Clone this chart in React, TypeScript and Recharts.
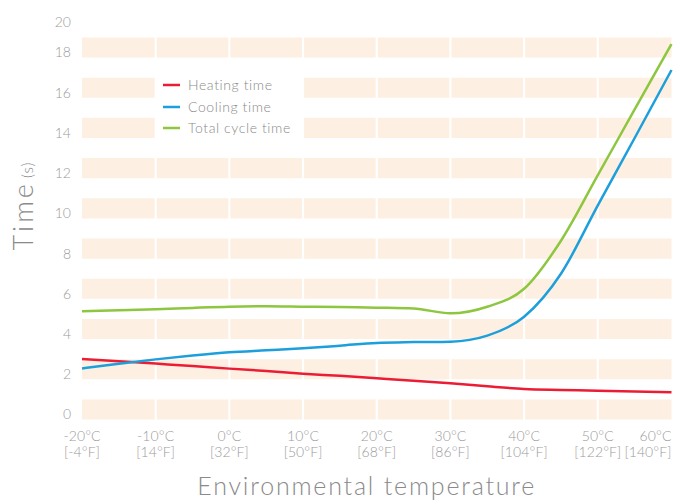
import React from 'react';
import { LineChart, Line, XAxis, YAxis, ReferenceArea, Legend } from 'recharts';

const temps = [-20, -15, -10, -5, 0, 5, 10, 15, 20, 25, 30, 35, 40, 45, 50, 55, 60];
const heating = [2.76, 2.65, 2.53, 2.41, 2.28, 2.16, 2.03, 1.92, 1.8, 1.68, 1.55, 1.4, 1.27, 1.22, 1.18, 1.14, 1.1];
const cooling = [2.29, 2.52, 2.74, 2.93, 3.09, 3.19, 3.29, 3.42, 3.56, 3.6, 3.62, 3.92, 4.86, 7.0, 10.4, 13.75, 17.13];
const total = [5.13, 5.18, 5.23, 5.3, 5.36, 5.38, 5.36, 5.34, 5.31, 5.27, 5.03, 5.36, 6.25, 8.64, 11.9, 15.17, 18.42];

const xTicks = [-20, -10, 0, 10, 20, 30, 40, 50, 60];
const celsiusLabels = ['-20°C', '-10°C', '0°C', '10°C', '20°C', '30°C', '40°C', '50°C', '60°C'];
const fahrenheitLabels = ['[-4°F]', '[14°F]', '[32°F]', '[50°F]', '[68°F]', '[86°F]', '[104°F]', '[122°F]', '[140°F]'];
const yTicks = [0, 2, 4, 6, 8, 10, 12, 14, 16, 18, 20];
const bandRows = [0, 2, 4, 6, 8, 10, 12, 14, 16, 18];
const bandCols = [-20, -10, 0, 10, 20, 30, 40, 50];

const seriesNames = ['Heating time', 'Cooling time', 'Total cycle time'];
const seriesColors = ['#ec1c34', '#1c9fdb', '#8dc63f'];

const data = temps.map((t, i) => ({ t, heating: heating[i], cooling: cooling[i], total: total[i] }));

const FONT = 'Lato, "Open Sans", sans-serif';
const TICK_COLOR = '#9b9b9b';
const TITLE_COLOR = '#8a8a8a';
const BAND = '#fdf0e2';

const XTick = (props: any) => {
  const { x, y, payload } = props;
  const i = xTicks.indexOf(payload.value);
  const last = i === xTicks.length - 1;
  return (
    <text x={x} y={y} textAnchor={last ? 'end' : 'middle'} fill={TICK_COLOR} fontSize={14} letterSpacing={0.1} fontFamily={FONT} fontWeight={300}>
      <tspan x={x} dy={21}>{celsiusLabels[i]}</tspan>
      <tspan x={x} dy={16.5}>{fahrenheitLabels[i]}</tspan>
    </text>
  );
};

const YTick = (props: any) => {
  const { x, y, payload } = props;
  const shift = payload.value === 20 ? 10 : 0;
  return (
    <text x={x} y={y + shift} dy="0.35em" textAnchor="end" fill={TICK_COLOR} fontSize={14} fontFamily={FONT} fontWeight={300}>
      {payload.value}
    </text>
  );
};

const LegendContent = (props: any) => {
  const payload = [...(props.payload || [])].sort(
    (a: any, b: any) => seriesNames.indexOf(a.value) - seriesNames.indexOf(b.value)
  );
  return (
    <div style={{ paddingTop: 14, fontFamily: FONT, fontWeight: 300, fontSize: 14, letterSpacing: 0.6, color: TITLE_COLOR }}>
      {payload.map((p: any) => (
        <div key={p.value} style={{ height: 21.7, display: 'flex', alignItems: 'center' }}>
          <svg width={32} height={6} style={{ display: 'block' }}>
            <line x1={7} x2={24} y1={3} y2={3} stroke={p.color} strokeWidth={2.5} />
          </svg>
          <span style={{ lineHeight: '21.7px', whiteSpace: 'nowrap' }}>{p.value}</span>
        </div>
      ))}
    </div>
  );
};

export default function App() {
  return (
    <div style={{ position: 'absolute', left: 0, top: 0, background: '#fff' }}>
      <LineChart width={686} height={502} data={data} margin={{ top: 12.3, right: 14.5, bottom: 22.5, left: 0 }}>
        {bandRows.map((r) =>
          bandCols.map((c, ci) => (
            <ReferenceArea
              key={`b${r}_${c}`}
              x1={ci === 0 ? c : c + 0.14}
              x2={ci === bandCols.length - 1 ? c + 10 : c + 10 - 0.14}
              y1={r - 0.25}
              y2={r + 0.75}
              fill={BAND}
              fillOpacity={1}
              stroke="none"
              ifOverflow="visible"
            />
          ))
        )}
        <XAxis
          dataKey="t"
          type="number"
          domain={[-20, 60]}
          ticks={xTicks}
          axisLine={false}
          tickLine={false}
          tickSize={0}
          tickMargin={0}
          height={60}
          interval={0}
          tick={<XTick />}
          label={{
            content: () => (
              <text x={366.7} y={495} textAnchor="middle" fill={TITLE_COLOR} fontSize={25} letterSpacing={1.8} fontFamily={FONT} fontWeight={300}>
                Environmental temperature
              </text>
            ),
          }}
        />
        <YAxis
          type="number"
          domain={[-0.25, 20]}
          ticks={yTicks}
          axisLine={false}
          tickLine={false}
          tickSize={0}
          tickMargin={11}
          width={82}
          interval={0}
          tick={<YTick />}
          label={{
            content: () => (
              <text x={32.5} y={206} transform="rotate(-90, 32.5, 206)" textAnchor="middle" fill={TITLE_COLOR} fontFamily={FONT} fontWeight={300}>
                <tspan fontSize={27} letterSpacing={3}>Time</tspan>
                <tspan fontSize={15} dx={3} letterSpacing={1}>(s)</tspan>
              </text>
            ),
          }}
        />
        <Legend
          layout="vertical"
          align="center"
          verticalAlign="middle"
          content={<LegendContent />}
          wrapperStyle={{ left: 156, top: 60, width: 148, height: 92, background: '#fff' }}
        />
        <Line type="monotone" dataKey="heating" name={seriesNames[0]} stroke={seriesColors[0]} strokeWidth={2.5} dot={false} isAnimationActive={false} />
        <Line type="monotone" dataKey="cooling" name={seriesNames[1]} stroke={seriesColors[1]} strokeWidth={2.5} dot={false} isAnimationActive={false} />
        <Line type="monotone" dataKey="total" name={seriesNames[2]} stroke={seriesColors[2]} strokeWidth={2.5} dot={false} isAnimationActive={false} />
      </LineChart>
    </div>
  );
}
